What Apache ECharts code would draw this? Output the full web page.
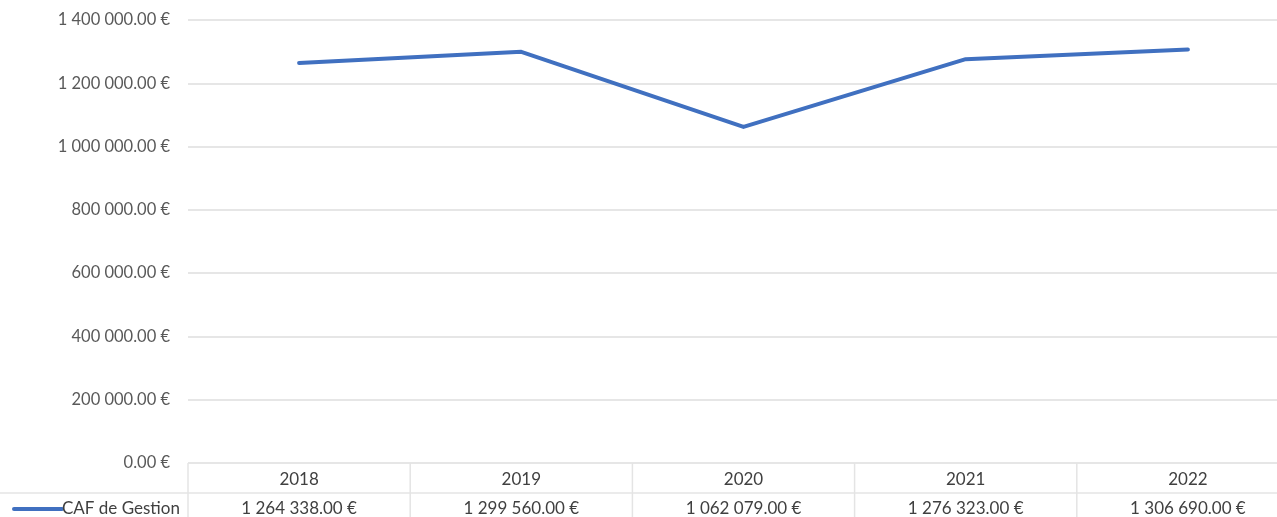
<!DOCTYPE html>
<html>
<head>
<meta charset="utf-8">
<style>
  html, body { margin: 0; padding: 0; background: #ffffff; }
  #chart { width: 1277px; height: 517px; }
</style>
<script src="https://cdn.jsdelivr.net/npm/echarts@6/dist/echarts.min.js"></script>
</head>
<body>
<div id="chart"></div>
<script>
// Years shown on the category axis and in the data table
const years = ['2018', '2019', '2020', '2021', '2022'];
// CAF de Gestion, in euros
const cafValues = [1264338, 1299560, 1062079, 1276323, 1306690];
const seriesName = 'CAF de Gestion';
// Value axis range and step
const yMin = 0;
const yMax = 1400000;
const yStep = 200000;

const FONT = 'Lato, "Open Sans", sans-serif';
const LINE_COLOR = '#4070C0';
const TABLE_LINE = '#e4e4e4';

// "1264338" -> "1 264 338.00 €"
function euro(v) {
  const parts = v.toFixed(2).split('.');
  const intPart = parts[0].replace(/\B(?=(\d{3})+(?!\d))/g, ' ');
  return intPart + '.' + parts[1] + ' €';
}

const chart = echarts.init(document.getElementById('chart'), null, { renderer: 'canvas' });

chart.setOption({
  animation: false,
  backgroundColor: '#ffffff',
  // the plot area runs a little past the right edge of the canvas
  grid: {
    left: 188, right: -22, top: 20, bottom: 54,
    containLabel: false,
    outerBoundsMode: 'none'
  },
  xAxis: {
    type: 'category',
    data: years,
    boundaryGap: true,
    axisLine: { show: false },
    axisTick: { show: false },
    axisLabel: { show: false },
    splitLine: { show: false }
  },
  yAxis: {
    type: 'value',
    min: yMin,
    max: yMax,
    interval: yStep,
    axisLine: { show: false },
    axisTick: { show: false },
    axisLabel: {
      margin: 18,
      fontFamily: FONT,
      fontSize: 16.5,
      color: '#595959',
      formatter: euro
    },
    splitLine: { lineStyle: { color: '#dedede', width: 1.5 } }
  },
  series: [{
    name: seriesName,
    type: 'line',
    data: cafValues,
    symbol: 'none',
    lineStyle: { color: LINE_COLOR, width: 4, cap: 'round', join: 'round' },
    itemStyle: { color: LINE_COLOR }
  }]
});

// Data table under the plot: year row, then the series row with its legend key
function drawTable() {
  const zeroY = chart.convertToPixel({ yAxisIndex: 0 }, 0);
  const x0 = chart.convertToPixel({ xAxisIndex: 0 }, years[0]);
  const x1 = chart.convertToPixel({ xAxisIndex: 0 }, years[1]);
  const band = x1 - x0;
  const left = x0 - band / 2;
  const right = chart.convertToPixel({ xAxisIndex: 0 }, years[years.length - 1]) + band / 2;
  const bottom = chart.getHeight();
  const rowSplit = zeroY + 30;
  const yearY = zeroY + 17;
  const valueY = rowSplit + 16;

  const elements = [];
  // row divider, running under the legend cell as well
  elements.push({
    type: 'line', silent: true,
    shape: { x1: 0, y1: rowSplit, x2: right, y2: rowSplit },
    style: { stroke: TABLE_LINE, lineWidth: 1.5 }
  });
  // column borders
  for (let i = 0; i <= years.length; i++) {
    const x = left + band * i;
    elements.push({
      type: 'line', silent: true,
      shape: { x1: x, y1: zeroY, x2: x, y2: bottom },
      style: { stroke: TABLE_LINE, lineWidth: 1.5 }
    });
  }
  years.forEach(function (yr, i) {
    const cx = chart.convertToPixel({ xAxisIndex: 0 }, yr);
    elements.push({
      type: 'text', silent: true,
      style: {
        x: cx, y: yearY, text: yr, align: 'center', verticalAlign: 'middle',
        font: '17px ' + FONT, fill: '#404040'
      }
    });
    elements.push({
      type: 'text', silent: true,
      style: {
        x: cx, y: valueY, text: euro(cafValues[i]), align: 'center', verticalAlign: 'middle',
        font: '17px ' + FONT, fill: '#404040'
      }
    });
  });
  // legend key and series name
  elements.push({
    type: 'line', silent: true,
    shape: { x1: 14, y1: valueY, x2: 62, y2: valueY },
    style: { stroke: LINE_COLOR, lineWidth: 4, lineCap: 'round' }
  });
  elements.push({
    type: 'text', silent: true,
    style: {
      x: 62, y: valueY, text: seriesName, align: 'left', verticalAlign: 'middle',
      font: '17px ' + FONT, fill: '#404040'
    }
  });

  chart.setOption({ graphic: { elements: elements } });
}

drawTable();
</script>
</body>
</html>
